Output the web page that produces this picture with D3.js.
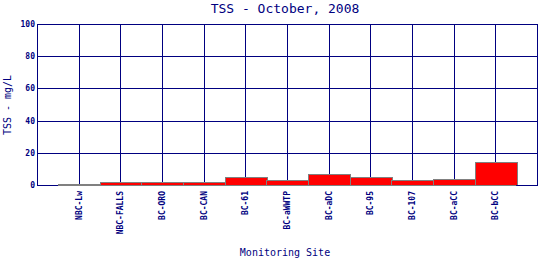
<!DOCTYPE html>
<html>
<head>
<meta charset="utf-8">
<script src="https://cdnjs.cloudflare.com/ajax/libs/d3/7.8.5/d3.min.js"></script>
<style>
  body { margin: 0; background: #fff; }
  svg text { font-family: "DejaVu Sans Mono", "Liberation Mono", monospace; fill: #000080; }
</style>
</head>
<body>
<div class="container"></div>
<script>
const sites = ["NBC-Lw", "NBC-FALLS", "BC-ORO", "BC-CAN", "BC-61", "BC-aWWTP", "BC-aDC", "BC-95", "BC-107", "BC-aCC", "BC-bCC"];
const tss = [0.6, 1.7, 1.7, 1.7, 5, 3, 6.8, 5, 3, 3.7, 14.2];
const yTicks = [0, 20, 40, 60, 80, 100];

const w = 540;
const h = 260;
const plotLeft = 37, plotRight = 537, plotTop = 24, plotBottom = 185;
const navy = "#000080";

const xScale = d3.scalePoint()
                 .domain(sites)
                 .range([plotLeft, plotRight])
                 .padding(1);
const step = xScale.step();

const yScale = d3.scaleLinear()
                 .domain([0, 100])
                 .range([plotBottom, plotTop]);

const svg = d3.select(".container")
  .append("svg")
  .attr("width", w)
  .attr("height", h);

// title
svg.append("text")
   .attr("x", 285)
   .attr("y", 13)
   .attr("text-anchor", "middle")
   .style("font-size", "13px")
   .text("TSS - October, 2008");

// grid lines
const crisp = (v) => Math.round(v) + 0.5;
svg.selectAll(".hgrid")
   .data(yTicks)
   .enter()
   .append("line")
   .attr("x1", plotLeft)
   .attr("x2", plotRight)
   .attr("y1", (d) => crisp(yScale(d)))
   .attr("y2", (d) => crisp(yScale(d)))
   .attr("stroke", navy)
   .attr("stroke-width", 1);

svg.selectAll(".vgrid")
   .data(sites)
   .enter()
   .append("line")
   .attr("x1", (d) => crisp(xScale(d)))
   .attr("x2", (d) => crisp(xScale(d)))
   .attr("y1", plotTop)
   .attr("y2", plotBottom)
   .attr("stroke", navy)
   .attr("stroke-width", 1);

// bars
svg.selectAll("rect.bar")
   .data(sites)
   .enter()
   .append("rect")
   .attr("class", "bar")
   .attr("x", (d) => Math.round(xScale(d) - step / 2) + 0.5)
   .attr("y", (d, i) => Math.round(yScale(tss[i])) + 0.5)
   .attr("width", Math.round(step))
   .attr("height", (d, i) => Math.max(0, Math.round(plotBottom - yScale(tss[i]))))
   .attr("fill", "#ff0000")
   .attr("stroke", "#808080")
   .attr("stroke-width", 1);

// frame: left axis, bottom axis, right edge
svg.append("line")
   .attr("x1", crisp(plotLeft)).attr("x2", crisp(plotLeft))
   .attr("y1", plotTop).attr("y2", plotBottom + 1)
   .attr("stroke", navy);
svg.append("line")
   .attr("x1", crisp(plotRight)).attr("x2", crisp(plotRight))
   .attr("y1", plotTop).attr("y2", plotBottom + 1)
   .attr("stroke", navy);
svg.append("line")
   .attr("x1", plotLeft).attr("x2", xScale(sites[0]) - step / 2)
   .attr("y1", crisp(plotBottom)).attr("y2", crisp(plotBottom))
   .attr("stroke", navy);
svg.append("line")
   .attr("x1", xScale(sites[sites.length - 1]) + step / 2).attr("x2", plotRight)
   .attr("y1", crisp(plotBottom)).attr("y2", crisp(plotBottom))
   .attr("stroke", navy);

// y tick labels
svg.selectAll(".ylab")
   .data(yTicks)
   .enter()
   .append("text")
   .attr("x", 35)
   .attr("y", (d) => yScale(d) + 3)
   .attr("text-anchor", "end")
   .style("font-size", "8px")
   .style("font-weight", "bold")
   .text((d) => d);

// x tick labels
svg.selectAll(".xlab")
   .data(sites)
   .enter()
   .append("text")
   .attr("transform", (d) => "translate(" + (xScale(d) + 3) + "," + 191 + ") rotate(-90)")
   .attr("text-anchor", "end")
   .style("font-size", "8px")
   .style("font-weight", "bold")
   .text((d) => d);

// axis titles
svg.append("text")
   .attr("x", 285)
   .attr("y", 256)
   .attr("text-anchor", "middle")
   .style("font-size", "10px")
   .text("Monitoring Site");

svg.append("text")
   .attr("transform", "translate(11,105) rotate(-90)")
   .attr("text-anchor", "middle")
   .style("font-size", "10px")
   .text("TSS - mg/L");
</script>
</body>
</html>
